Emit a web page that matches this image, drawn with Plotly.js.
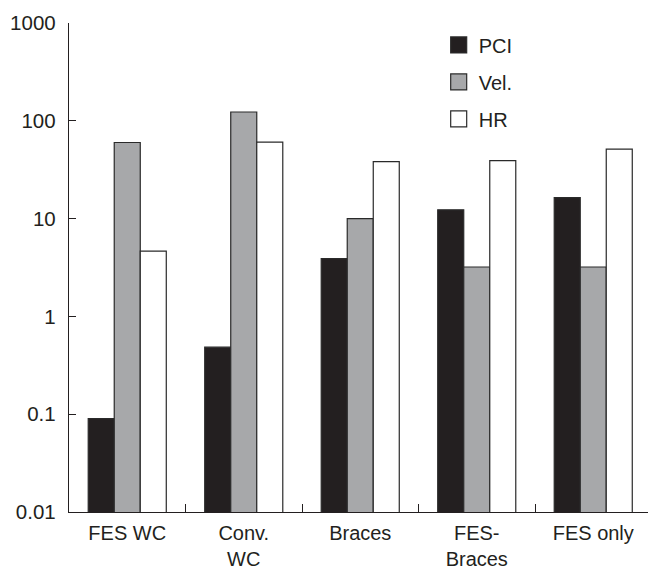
<!DOCTYPE html>
<html>
<head>
<meta charset="utf-8">
<script src="https://cdn.plot.ly/plotly-3.0.1.min.js"></script>
<style>html,body{margin:0;padding:0;background:#fff;}#chart{width:650px;height:574px;}</style>
</head>
<body>
<div id="chart"></div>
<script>
// Data (log scale)
const categories = ["FES WC", "Conv.<br>WC", "Braces", "FES-<br>Braces", "FES only"];
const seriesNames = ["PCI", "Vel.", "HR"];
const pciValues = [0.09, 0.485, 3.9, 12.3, 16.4];
const velValues = [60, 123, 10, 3.2, 3.2];
const hrValues = [4.65, 60.5, 38.2, 39.1, 51.4];
const yTickValues = [0.01, 0.1, 1, 10, 100, 1000];
const yTickLabels = ["0.01", "0.1", "1", "10", "100", "1000"];

const fills = ["#231f20", "#a7a8aa", "#ffffff"];
const edge = "#2a2a2a";
const allValues = [pciValues, velValues, hrValues];

const barTraces = allValues.map((vals, i) => ({
  type: "bar",
  name: seriesNames[i],
  x: categories,
  y: vals,
  legendgroup: "g" + i,
  showlegend: false,
  marker: {color: fills[i], line: {color: edge, width: 1.2}},
  hoverinfo: "x+y+name"
}));

// legend-only entries (larger square swatches like the reference)
const legendTraces = seriesNames.map((nm, i) => ({
  type: "scatter",
  mode: "markers",
  name: nm,
  x: [null],
  y: [null],
  legendgroup: "g" + i,
  showlegend: true,
  marker: {symbol: "square", size: 16, color: fills[i], line: {color: edge, width: 1.2}},
  hoverinfo: "skip"
}));

const font = {family: "Liberation Sans, Arial, Helvetica, sans-serif", size: 20.5, color: "#231f20"};

const layout = {
  width: 650,
  height: 574,
  margin: {l: 69, r: 2, t: 23, b: 62},
  paper_bgcolor: "#ffffff",
  plot_bgcolor: "#ffffff",
  font: font,
  barmode: "group",
  bargap: 0.33,
  bargroupgap: 0,
  showlegend: true,
  legend: {
    x: 0.6385, xanchor: "left",
    y: 0.995, yanchor: "top",
    font: {family: font.family, size: 20, color: "#231f20"},
    bgcolor: "rgba(0,0,0,0)",
    borderwidth: 0,
    tracegroupgap: 8,
    traceorder: "grouped"
  },
  xaxis: {
    type: "category",
    range: [-0.5, 4.47],
    showline: true,
    linecolor: "#231f20",
    linewidth: 1.2,
    ticks: "inside",
    tickson: "boundaries",
    ticklen: 8,
    tickcolor: "#231f20",
    tickwidth: 1,
    showgrid: false,
    zeroline: false,
    tickfont: {family: font.family, size: 20, color: "#231f20"},
    ticklabelstandoff: 3,
    fixedrange: true
  },
  yaxis: {
    type: "log",
    range: [-2, 3],
    showline: true,
    linecolor: "#231f20",
    linewidth: 1.2,
    ticks: "inside",
    ticklen: 7,
    tickcolor: "#231f20",
    tickwidth: 1,
    tickvals: yTickValues,
    ticktext: yTickLabels,
    showgrid: false,
    zeroline: false,
    tickfont: {family: font.family, size: 20.5, color: "#231f20"},
    ticklabelstandoff: 8,
    fixedrange: true
  }
};

Plotly.newPlot("chart", barTraces.concat(legendTraces), layout, {displayModeBar: false, staticPlot: true});
</script>
</body>
</html>
